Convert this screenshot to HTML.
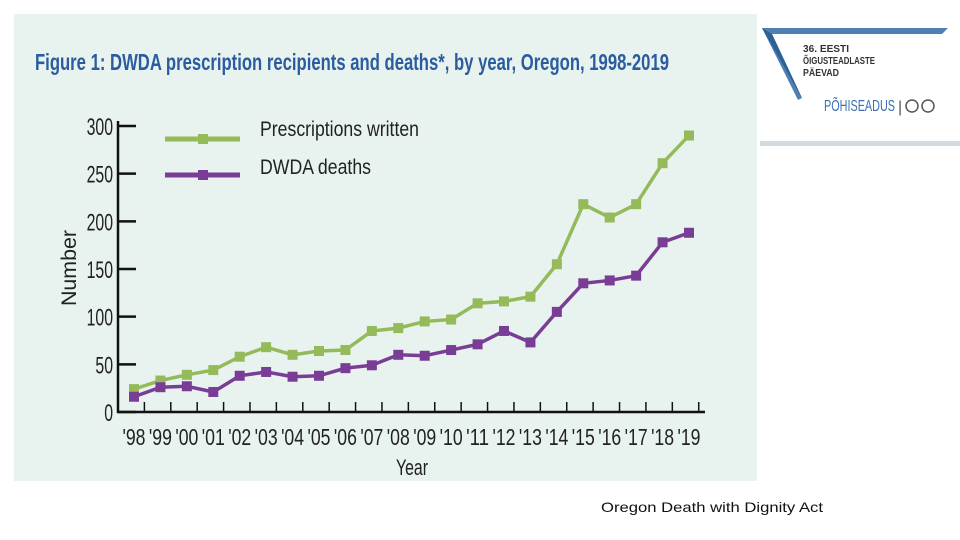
<!DOCTYPE html>
<html><head><meta charset="utf-8"><style>
body{margin:0;width:960px;height:540px;background:#fff;position:relative;overflow:hidden;font-family:"Liberation Sans",sans-serif}
#panel{position:absolute;left:14px;top:14px;width:743px;height:467px;background:#e8f3ef}
</style></head><body>
<div id="panel"></div>
<svg width="960" height="540" style="position:absolute;left:0;top:0">
<text x="35" y="70" font-size="23" font-weight="bold" fill="#2b5c9f" textLength="634" lengthAdjust="spacingAndGlyphs">Figure 1: DWDA prescription recipients and deaths*, by year, Oregon, 1998-2019</text>
<g id="axes"></g>
<g id="marks"></g>
<line x1="165" y1="139" x2="240" y2="139" stroke="#94ba5a" stroke-width="5"/>
<rect x="198" y="134" width="10" height="10" fill="#94ba5a"/>
<text x="260" y="136" font-size="21" fill="#222" textLength="159" lengthAdjust="spacingAndGlyphs">Prescriptions written</text>
<line x1="165" y1="175" x2="240" y2="175" stroke="#7a3d96" stroke-width="5"/>
<rect x="198" y="170" width="10" height="10" fill="#7a3d96"/>
<text x="260" y="174" font-size="21" fill="#222" textLength="111" lengthAdjust="spacingAndGlyphs">DWDA deaths</text>
<text x="76" y="268" font-size="21" fill="#222" transform="rotate(-90 76 268)" text-anchor="middle" textLength="76" lengthAdjust="spacingAndGlyphs">Number</text>
<text x="396" y="475" font-size="22" fill="#222" textLength="32" lengthAdjust="spacingAndGlyphs">Year</text>
<g>
<polygon points="762,28 948,28 942,34 772,34 802,98 798,100" fill="#4f7fb3"/>
<polygon points="762,28 772,34 802,98" fill="#2e5f95"/>
<text x="803" y="52" font-size="10" font-weight="bold" fill="#333" textLength="46" lengthAdjust="spacingAndGlyphs">36. EESTI</text>
<text x="803" y="64" font-size="10" font-weight="bold" fill="#333" textLength="72" lengthAdjust="spacingAndGlyphs">ÕIGUSTEADLASTE</text>
<text x="803" y="76" font-size="10" font-weight="bold" fill="#333" textLength="36" lengthAdjust="spacingAndGlyphs">PÄEVAD</text>
<text x="824" y="111" font-size="16" fill="#3b6fb0" textLength="71" lengthAdjust="spacingAndGlyphs">PÕHISEADUS</text>
<text x="898" y="112" font-size="16" fill="#555">|</text>
<circle cx="912" cy="106" r="6" fill="none" stroke="#555" stroke-width="1.5"/>
<circle cx="928" cy="106" r="6" fill="none" stroke="#555" stroke-width="1.5"/>
<rect x="760" y="141" width="200" height="5" fill="#d3dae2"/>
</g>
<text x="601" y="512" font-size="14" fill="#111" textLength="222" lengthAdjust="spacingAndGlyphs">Oregon Death with Dignity Act</text>
</svg>
<script>
const years=["'98","'99","'00","'01","'02","'03","'04","'05","'06","'07","'08","'09","'10","'11","'12","'13","'14","'15","'16","'17","'18","'19"];
const prescriptions=[24,33,39,44,58,68,60,64,65,85,88,95,97,114,116,121,155,218,204,218,261,290];
const deaths=[16,26,27,21,38,42,37,38,46,49,60,59,65,71,85,73,105,135,138,143,178,188];
const yTicks=[0,50,100,150,200,250,300];
const NS="http://www.w3.org/2000/svg";
const x=i=>134+i*(555/21);
const y=v=>412-v*(286/300);
function mk(tag,attrs,parent){const e=document.createElementNS(NS,tag);for(const k in attrs)e.setAttribute(k,attrs[k]);parent.appendChild(e);return e;}
const ax=document.getElementById('axes'),mg=document.getElementById('marks');
let l=mk('line',{x1:118,y1:121,x2:118,y2:413,stroke:'#111','stroke-width':2.5},ax);


l=mk('line',{x1:117,y1:412,x2:705,y2:412,stroke:'#111','stroke-width':2.5},ax);


yTicks.forEach(v=>{
 let t=mk('line',{x1:118,y1:y(v),x2:136,y2:y(v),stroke:'#111','stroke-width':2.5},ax);
 
 
 const s=String(v);
 let tx=mk('text',{x:113,y:y(v)+9,'text-anchor':'end','font-size':24,fill:'#222',textLength:s.length*8.8,lengthAdjust:'spacingAndGlyphs'},ax);tx.textContent=s;
 
 
});
for(let i=0;i<=22;i++){
 let xx=118+i*(586/22.2);
 let t=mk('line',{x1:xx,y1:402,x2:xx,y2:412,stroke:'#111','stroke-width':1.5},ax);
 
 
}
years.forEach((yr,i)=>{
 let tx=mk('text',{x:x(i)-11.5,y:445,'font-size':23,fill:'#222',textLength:23,lengthAdjust:'spacingAndGlyphs'},ax);tx.textContent=yr;
 
 
});
function series(vals,color,name){
 let p=mk('polyline',{points:vals.map((v,i)=>x(i)+','+y(v)).join(' '),fill:'none',stroke:color,'stroke-width':3.5},mg);
 
 
 vals.forEach((v,i)=>{
  let r=mk('rect',{x:x(i)-5,y:y(v)-5,width:10,height:10,fill:color},mg);
  
  
 });
}
series(prescriptions,'#94ba5a','prescriptions');
series(deaths,'#7a3d96','deaths');
</script>
</body></html>
